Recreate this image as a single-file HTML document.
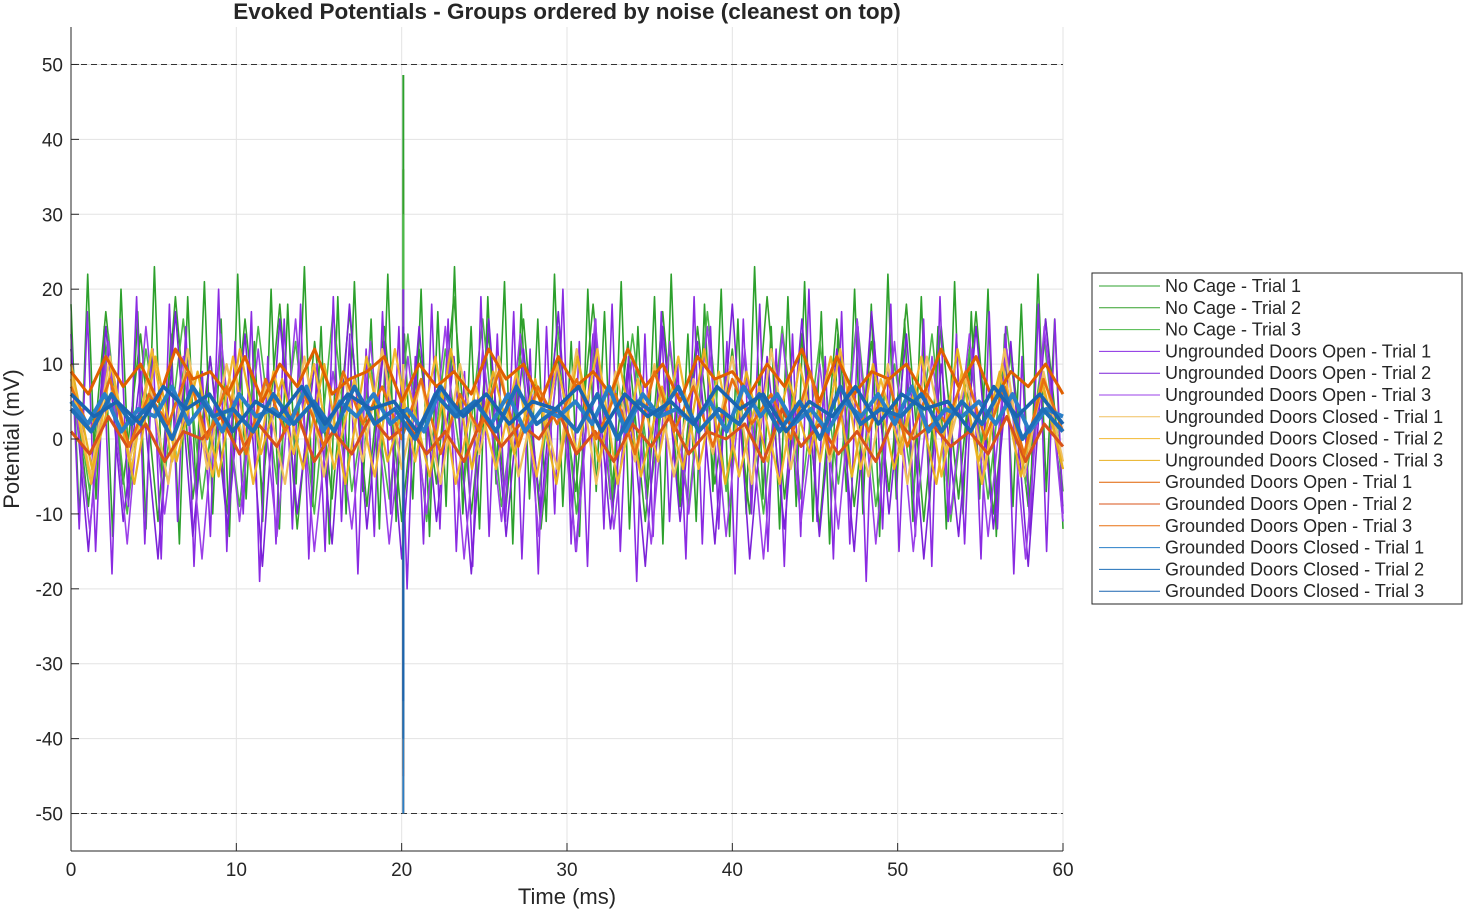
<!DOCTYPE html>
<html><head><meta charset="utf-8"><style>
body{margin:0;background:#fff;width:1465px;height:912px;overflow:hidden;font-family:"Liberation Sans",sans-serif}
svg text{font-family:"Liberation Sans",sans-serif}
</style></head><body>
<svg id="chart" width="1465" height="912"></svg>
<script>
// ---- data ----
const xTicks=[0,10,20,30,40,50,60];
const yTicks=[-50,-40,-30,-20,-10,0,10,20,30,40,50];
const seriesNames=["No Cage - Trial 1","No Cage - Trial 2","No Cage - Trial 3","Ungrounded Doors Open - Trial 1","Ungrounded Doors Open - Trial 2","Ungrounded Doors Open - Trial 3","Ungrounded Doors Closed - Trial 1","Ungrounded Doors Closed - Trial 2","Ungrounded Doors Closed - Trial 3","Grounded Doors Open - Trial 1","Grounded Doors Open - Trial 2","Grounded Doors Open - Trial 3","Grounded Doors Closed - Trial 1","Grounded Doors Closed - Trial 2","Grounded Doors Closed - Trial 3"];
const seriesColors=["#2ca02c","#33a02c","#4cb848","#8a2be2","#7b22d8","#9b40e8","#f0c060","#f2b830","#e8b020","#e06000","#d95319","#e87010","#2a7fc8","#1f6fb8","#1a65b0"];
const spikeTime=20.1;
const spikeVals=[48.6,36,30,20,15,10,10,8,5,-50,-45,-44,-50,-40,-35];
const ncT1=[18,-11,22,-8,15,-13,20,-6,17,-12,23,-9,14,-14,19,-7,21,-10,16,-13,22,-8,13,-11,20,-12,18,-6,23,-9,15,-14,19,-10,21,-7,16,-12,22,-11,14,-8,20,-13,17,-9,23,-10,15,-12,19,-6,21,-14,18,-8,16,-11,22,-9,13,-13,20,-7,17,-10,21,-12,15,-8,19,-14,22,-9,14,-11,18,-7,20,-13,16,-10,23,-8,15,-12,19,-9,21,-11,17,-14,14,-7,20,-10,18,-13,22,-8,16,-11,19,-9,15,-12,21,-10,17,-8,20,-13,14,-9,18,-11,22,-7,16,-12];
const ncT2=[12,-9,17,-6,14,-11,19,-8,11,-10,16,-7,18,-12,13,-8,17,-9,15,-11,12,-6,19,-10,14,-9,16,-12,11,-7,18,-8,13,-11,17,-9,15,-6,12,-10,19,-8,14,-12,16,-9,13,-7,18,-11,15,-8,17,-10,12,-9,16,-7];
const ncT3=[10,-7,14,-10,12,-5,16,-8,11,-9,15,-6,13,-10,17,-7,10,-8,14,-11,12,-6,16,-9,11,-7,15,-10,13,-8,14,-6,12,-9,17,-7,11,-10,15,-8,13,-6,16,-9,10,-7,14,-11,12,-8,15,-6,13,-9];
const uoT1=[14,-12,17,-15,10,-18,16,-9,19,-14,12,-16,18,-11,15,-17,9,-13,20,-15,13,-10,17,-19,11,-14,16,-12,18,-16,10,-15,19,-11,14,-18,12,-13,17,-10,15,-20,11,-14,18,-12,16,-15,9,-17,19,-13,14,-11,17,-16,12,-18,15,-10,20,-14,13,-17,16,-12,18,-15,11,-19,14,-13,17,-11,10,-16,19,-14,15,-12,13,-18,16,-10,18,-15,12,-17,14,-13,20,-11,11,-16,17,-14,15,-19,13,-12,18,-15,10,-13,16,-17,19,-11,14,-14,12,-16,17,-12,15,-18,11,-13,18,-15,16,-10];
const uoT2=[12,-15,15,-11,9,-16,17,-13,11,-12,14,-17,16,-10,10,-14,18,-12,13,-16,15,-11,11,-18,16,-13,12,-10,17,-15,14,-12,10,-17,15,-11,13,-14,18,-16,11,-12,16,-13,12,-15,17,-10,14,-16,10,-13,15,-12,13,-17,16,-11];
const uoT3=[10,-12,13,-14,15,-10,11,-16,14,-11,12,-13,16,-15,9,-12,13,-14,11,-10,15,-16,12,-11,14,-13,10,-15,16,-12,11,-14,13,-10,15,-13,12,-16,14,-11,10,-12,16,-14,13,-15,11,-10,14,-13,12,-16,15,-11];
const ucT1=[9,-5,11,-3,8,-6,12,-4,10,-2,7,-6,11,-5,9,-3,12,-4,8,-6,10,-2,11,-5,7,-4,12,-6,9,-3,10,-5,8,-2,11,-6,12,-4,9,-3,7,-5,10,-6,11,-2,8,-4,12,-5,9,-3];
const ucT2=[8,-6,10,-4,12,-3,7,-5,11,-6,9,-2,10,-4,8,-5,12,-3,11,-6,7,-4,9,-5,10,-2,12,-6,8,-3,11,-4,9,-5,7,-6,10,-3,12,-4,8,-2,11,-5,9,-6,10,-3,7,-4];
const ucT3=[10,-4,7,-6,11,-3,9,-5,12,-2,8,-4,10,-6,11,-3,7,-5,12,-4,9,-2,8,-6,11,-3,10,-5,7,-4,12,-6,9,-3,8,-2,11,-5,10,-4,7,-6,12,-3,9,-5,8,-4];
const goT1=[9,6,11,7,10,5,12,8,9,6,11,5,10,7,12,6,8,9,11,5,10,7,9,6,12,8,10,5,11,7,9,6,12,7,10,5,11,8,9,6,10,7,12,5,11,6,9,8,10,6,12,7,11,5,9,7,10,6];
const goT2=[1,-2,3,-1,2,-3,1,0,3,-2,2,-1,4,-3,1,-2,3,0,2,-2,1,-3,3,-1,2,0,4,-2,1,-3,2,-1,3,-2,1,0,2,-3,4,-1,2,-2,1,-3,3,0,2,-1,1,-2,3,-3,2,-1];
const goT3=[7,1,8,-1,6,2,9,0,7,-2,8,1,6,-1,9,2,7,0,8,-2,6,1,9,-1,7,2,8,0,6,-2,9,1,7,-1,8,2,6,0,9,-2,7,1,8,-1,6,2,9,0,7,-2,8,1];
const gcT1=[5,2,6,1,4,3,7,2,5,1,6,3,4,2,7,1,5,3,6,2,4,1,7,3,5,2,6,1,4,3,5,2,7,1,6,3,4,2,5,1,7,3,6,2,4,1,5,3,6,2,7,1,4,3,5,2,6,1,4,3];
const gcT2=[4,1,6,2,5,0,7,3,4,1,6,2,5,1,7,2,4,0,6,3,5,1,7,2,4,1,6,0,5,3,7,1,4,2,6,1,5,0,7,2,4,3,6,1,5,2,7,0,4,1];
const gcT3=[6,3,5,2,7,4,6,1,5,3,7,2,6,4,5,1,7,3,6,2,5,4,7,1,6,3,5,2,7,4,6,1,5,3,7,2,6,4,5,1,7,3,6,2];
const seriesData=[ncT1,ncT2,ncT3,uoT1,uoT2,uoT3,ucT1,ucT2,ucT3,goT1,goT2,goT3,gcT1,gcT2,gcT3];

// ---- layout ----
const L=71,R=1063,T=27,B=851,xMin=0,xMax=60,yMin=-55,yMax=55;
const sx=v=>L+(v-xMin)/(xMax-xMin)*(R-L);
const sy=v=>B-(v-yMin)/(yMax-yMin)*(B-T);
const widths=[1.6,1.6,1.6,1.6,1.6,1.6,2.2,2.2,2.2,3,3,2.6,4,4,3.6];
const NS="http://www.w3.org/2000/svg";
const svg=document.getElementById('chart');
function mk(tag,attrs,parent){const e=document.createElementNS(NS,tag);for(const k in attrs)e.setAttribute(k,attrs[k]);(parent||svg).appendChild(e);return e;}

const grid=mk('g',{});


xTicks.forEach(v=>mk('line',{x1:sx(v),x2:sx(v),y1:T,y2:B,stroke:'#e3e3e3','stroke-width':1},grid));
yTicks.forEach(v=>mk('line',{x1:L,x2:R,y1:sy(v),y2:sy(v),stroke:'#e3e3e3','stroke-width':1},grid));

[50,-50].forEach(v=>{const d=mk('line',{x1:L,x2:R,y1:sy(v),y2:sy(v),stroke:'#333','stroke-width':1,'stroke-dasharray':'6,4'});

});

seriesData.forEach((arr,i)=>{
 const n=arr.length;
 const pts=arr.map((v,j)=>{const t=j*(xMax-xMin)/(n-1);return sx(t).toFixed(1)+','+sy(v).toFixed(1);});
 const p=mk('polyline',{points:pts.join(' '),fill:'none',stroke:seriesColors[i],'stroke-width':widths[i],'stroke-linejoin':'round'});
 
 
 const s=mk('line',{x1:sx(spikeTime),x2:sx(spikeTime),y1:sy(4),y2:sy(spikeVals[i]),stroke:seriesColors[i],'stroke-width':2});
 
 
});

const ax=mk('g',{});


mk('line',{x1:L,x2:L,y1:T,y2:B,stroke:'#262626','stroke-width':1},ax);
mk('line',{x1:L,x2:R,y1:B,y2:B,stroke:'#262626','stroke-width':1},ax);
xTicks.forEach(v=>{mk('line',{x1:sx(v),x2:sx(v),y1:B,y2:B-8,stroke:'#262626'},ax);
 const t=mk('text',{x:sx(v),y:B+25,'text-anchor':'middle','font-size':19,fill:'#262626'},ax);t.textContent=v;
 
 });
yTicks.forEach(v=>{mk('line',{x1:L,x2:L+8,y1:sy(v),y2:sy(v),stroke:'#262626'},ax);
 const t=mk('text',{x:L-8,y:sy(v)+7,'text-anchor':'end','font-size':19,fill:'#262626'},ax);t.textContent=v;
 
 });
</script>
<svg width="1465" height="912" style="position:absolute;left:0;top:0">
<text x="567" y="19" text-anchor="middle" font-size="22.5" font-weight="bold" fill="#262626">Evoked Potentials - Groups ordered by noise (cleanest on top)</text>
<text x="567" y="904" text-anchor="middle" font-size="22" fill="#262626">Time (ms)</text>
<text x="19" y="439" text-anchor="middle" font-size="22" fill="#262626" transform="rotate(-90 19 439)">Potential (mV)</text>
<g id="legend">
<rect x="1092" y="273" width="370" height="331" fill="#fff" stroke="#262626" stroke-width="1"/>
</g>
</svg>
<script>
const lg=document.getElementById('legend');
seriesNames.forEach((nm,i)=>{
 const y=286+i*21.8;
 const g=document.createElementNS("http://www.w3.org/2000/svg",'g');
 
 
 g.innerHTML='<line x1="1099" x2="1160" y1="'+y+'" y2="'+y+'" stroke="'+seriesColors[i]+'" stroke-width="1"/><text x="1165" y="'+(y+6)+'" font-size="18" fill="#262626">'+nm+'</text>';
 lg.appendChild(g);
});
</script>
</body></html>
